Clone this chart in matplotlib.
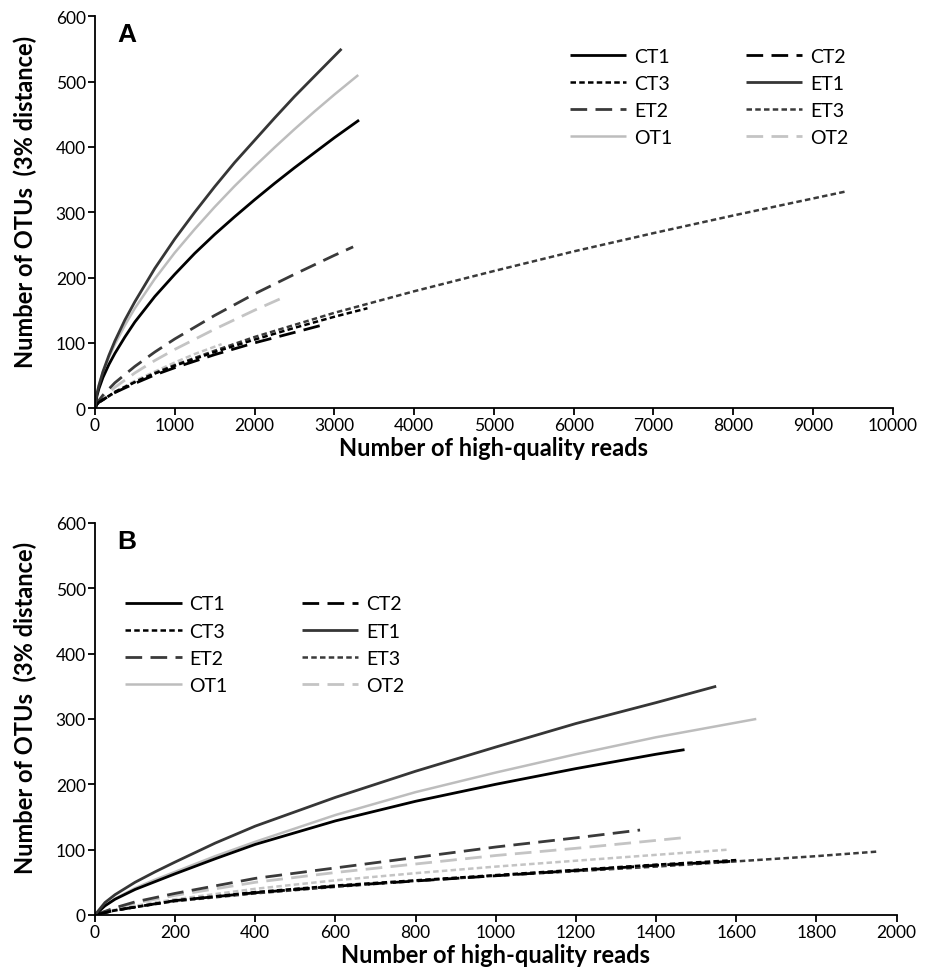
import matplotlib
matplotlib.use('Agg')
import matplotlib.pyplot as plt

plt.rcParams['font.family'] = ['Lato', 'DejaVu Sans']

# ---- panel A data ----
a_x_ct1 = [0, 25, 50, 100, 175, 250, 375, 500, 750, 1000, 1250, 1500, 1750, 2000, 2250, 2500, 2750, 3000, 3310]
a_y_ct1 = [0, 19, 30, 47, 67, 84, 109, 132, 171, 205, 237, 266, 293, 319, 344, 368, 391, 414, 441]
a_x_ct2 = [0, 25, 50, 100, 250, 500, 750, 1000, 1500, 2000, 2500, 2840]
a_y_ct2 = [0, 6, 9, 13, 24, 38, 51, 62, 82, 100, 116, 127]
a_x_ct3 = [0, 25, 50, 100, 250, 500, 750, 1000, 1500, 2000, 2500, 3000, 3415]
a_y_ct3 = [0, 6, 9, 13, 25, 40, 53, 65, 86, 105, 123, 140, 153]
a_x_et1 = [0, 25, 50, 100, 175, 250, 375, 500, 750, 1000, 1250, 1500, 1750, 2000, 2250, 2500, 2750, 3090]
a_y_et1 = [0, 22, 35, 56, 81, 103, 135, 163, 214, 259, 300, 339, 376, 410, 444, 477, 508, 550]
a_x_et2 = [0, 25, 50, 100, 250, 500, 750, 1000, 1500, 2000, 2500, 3000, 3236]
a_y_et2 = [0, 8, 12, 20, 39, 64, 86, 106, 142, 175, 205, 234, 247]
a_x_et3 = [0, 25, 50, 100, 250, 500, 750, 1000, 1500, 2000, 3000, 4000, 5000, 6000, 7000, 8000, 9420]
a_y_et3 = [0, 6, 9, 13, 24, 40, 54, 66, 88, 109, 146, 179, 210, 240, 268, 295, 332]
a_x_ot1 = [0, 25, 50, 100, 175, 250, 375, 500, 750, 1000, 1250, 1500, 1750, 2000, 2250, 2500, 2750, 3000, 3300]
a_y_ot1 = [0, 23, 35, 55, 78, 98, 127, 153, 198, 238, 274, 308, 340, 370, 399, 427, 454, 480, 510]
a_x_ot2 = [0, 25, 50, 100, 250, 500, 750, 1000, 1500, 2000, 2350]
a_y_ot2 = [0, 7, 11, 16, 32, 54, 73, 90, 121, 150, 169]
a_x_ot3 = [0, 25, 50, 100, 250, 500, 750, 1000, 1250, 1587]
a_y_ot3 = [0, 6, 9, 12, 25, 42, 56, 70, 83, 98]

# ---- panel B data ----
b_x_ct1 = [0, 25, 50, 100, 150, 200, 300, 400, 600, 800, 1000, 1200, 1400, 1471]
b_y_ct1 = [0, 14, 24, 39, 51, 63, 86, 108, 144, 174, 200, 224, 246, 253]
b_x_ct2 = [0, 50, 100, 200, 400, 600, 800, 1000, 1200, 1400, 1585]
b_y_ct2 = [0, 7, 12, 22, 34, 44, 52, 60, 68, 76, 82]
b_x_ct3 = [0, 50, 100, 200, 400, 600, 800, 1000, 1200, 1400, 1600]
b_y_ct3 = [0, 7, 12, 22, 35, 45, 53, 61, 69, 77, 84]
b_x_et1 = [0, 25, 50, 100, 150, 200, 300, 400, 600, 800, 1000, 1200, 1400, 1550]
b_y_et1 = [0, 19, 31, 50, 66, 81, 110, 136, 180, 220, 257, 293, 325, 350]
b_x_et2 = [0, 50, 100, 200, 400, 600, 800, 1000, 1200, 1360]
b_y_et2 = [0, 11, 20, 33, 56, 72, 88, 104, 118, 130]
b_x_et3 = [0, 50, 100, 200, 400, 600, 800, 1000, 1200, 1400, 1600, 1800, 1952]
b_y_et3 = [0, 7, 12, 21, 33, 43, 52, 60, 67, 74, 82, 90, 97]
b_x_ot1 = [0, 25, 50, 100, 150, 200, 300, 400, 600, 800, 1000, 1200, 1400, 1650]
b_y_ot1 = [0, 14, 25, 41, 54, 66, 90, 112, 153, 188, 218, 246, 272, 300]
b_x_ot2 = [0, 50, 100, 200, 400, 600, 800, 1000, 1200, 1464]
b_y_ot2 = [0, 10, 18, 30, 50, 65, 78, 91, 102, 118]
b_x_ot3 = [0, 50, 100, 200, 400, 600, 800, 1000, 1200, 1400, 1581]
b_y_ot3 = [0, 8, 14, 24, 40, 53, 64, 74, 83, 92, 100]

# style per sample: colour, dashes, width
styles = {
    'CT1': ('#000000', None, 2.0),
    'CT2': ('#000000', (6, 3), 2.0),
    'CT3': ('#000000', (2.2, 1.3), 1.8),
    'ET1': ('#363636', None, 2.0),
    'ET2': ('#3a3a3a', (6, 3), 2.0),
    'ET3': ('#3a3a3a', (2.2, 1.3), 1.8),
    'OT1': ('#bdbdbd', None, 1.8),
    'OT2': ('#c4c4c4', (6, 3), 2.0),
    'OT3': ('#c4c4c4', (2.2, 1.3), 1.8),
}
legend_order = ['CT1', 'CT3', 'ET2', 'OT1', 'CT2', 'ET1', 'ET3', 'OT2']

panel_a = {'CT1': (a_x_ct1, a_y_ct1), 'CT2': (a_x_ct2, a_y_ct2), 'CT3': (a_x_ct3, a_y_ct3),
           'ET1': (a_x_et1, a_y_et1), 'ET2': (a_x_et2, a_y_et2), 'ET3': (a_x_et3, a_y_et3),
           'OT1': (a_x_ot1, a_y_ot1), 'OT2': (a_x_ot2, a_y_ot2), 'OT3': (a_x_ot3, a_y_ot3)}
panel_b = {'CT1': (b_x_ct1, b_y_ct1), 'CT2': (b_x_ct2, b_y_ct2), 'CT3': (b_x_ct3, b_y_ct3),
           'ET1': (b_x_et1, b_y_et1), 'ET2': (b_x_et2, b_y_et2), 'ET3': (b_x_et3, b_y_et3),
           'OT1': (b_x_ot1, b_y_ot1), 'OT2': (b_x_ot2, b_y_ot2), 'OT3': (b_x_ot3, b_y_ot3)}

fig = plt.figure(figsize=(9.31, 9.79), dpi=100)
ax_a = fig.add_axes([0.102, 0.582, 0.857, 0.4004])
ax_b = fig.add_axes([0.102, 0.0644, 0.861, 0.4004])


def draw(ax, data, xmax, xstep, letter, legend_loc):
    handles = {}
    for name in ['OT3', 'OT2', 'OT1', 'ET3', 'ET2', 'CT3', 'CT2', 'CT1', 'ET1']:
        x, y = data[name]
        col, dash, lw = styles[name]
        line, = ax.plot(x, y, color=col, lw=lw, solid_capstyle='butt')
        if dash is not None:
            line.set_dashes(dash)
        handles[name] = line
    ax.set_xlim(0, xmax)
    ax.set_ylim(0, 600)
    ax.set_xticks(range(0, xmax + 1, xstep))
    ax.set_yticks(range(0, 601, 100))
    for s in ['top', 'right']:
        ax.spines[s].set_visible(False)
    for s in ['left', 'bottom']:
        ax.spines[s].set_linewidth(1.3)
    ax.tick_params(direction='out', length=5, width=1.3, labelsize=12.5, pad=1.5)
    ax.set_xlabel('Number of high-quality reads', fontsize=17, fontweight='bold', labelpad=2)
    ax.set_ylabel('Number of OTUs  (3% distance)', fontsize=17, fontweight='bold')
    ax.yaxis.set_label_coords(-0.072, 0.53)
    ax.text(0.028, 0.985, letter, transform=ax.transAxes, fontsize=19, fontweight='bold',
            family='Liberation Sans', va='top')
    ax.legend([handles[n] for n in legend_order], legend_order, ncol=2, frameon=False,
              loc='upper left', bbox_to_anchor=legend_loc, fontsize=14,
              handlelength=2.9, handletextpad=0.4, columnspacing=3.8, labelspacing=0.52,
              borderaxespad=0, borderpad=0)


draw(ax_a, panel_a, 10000, 1000, 'A', (0.595, 0.92))
draw(ax_b, panel_b, 2000, 200, 'B', (0.038, 0.815))

fig.savefig('out.png', dpi=100)
